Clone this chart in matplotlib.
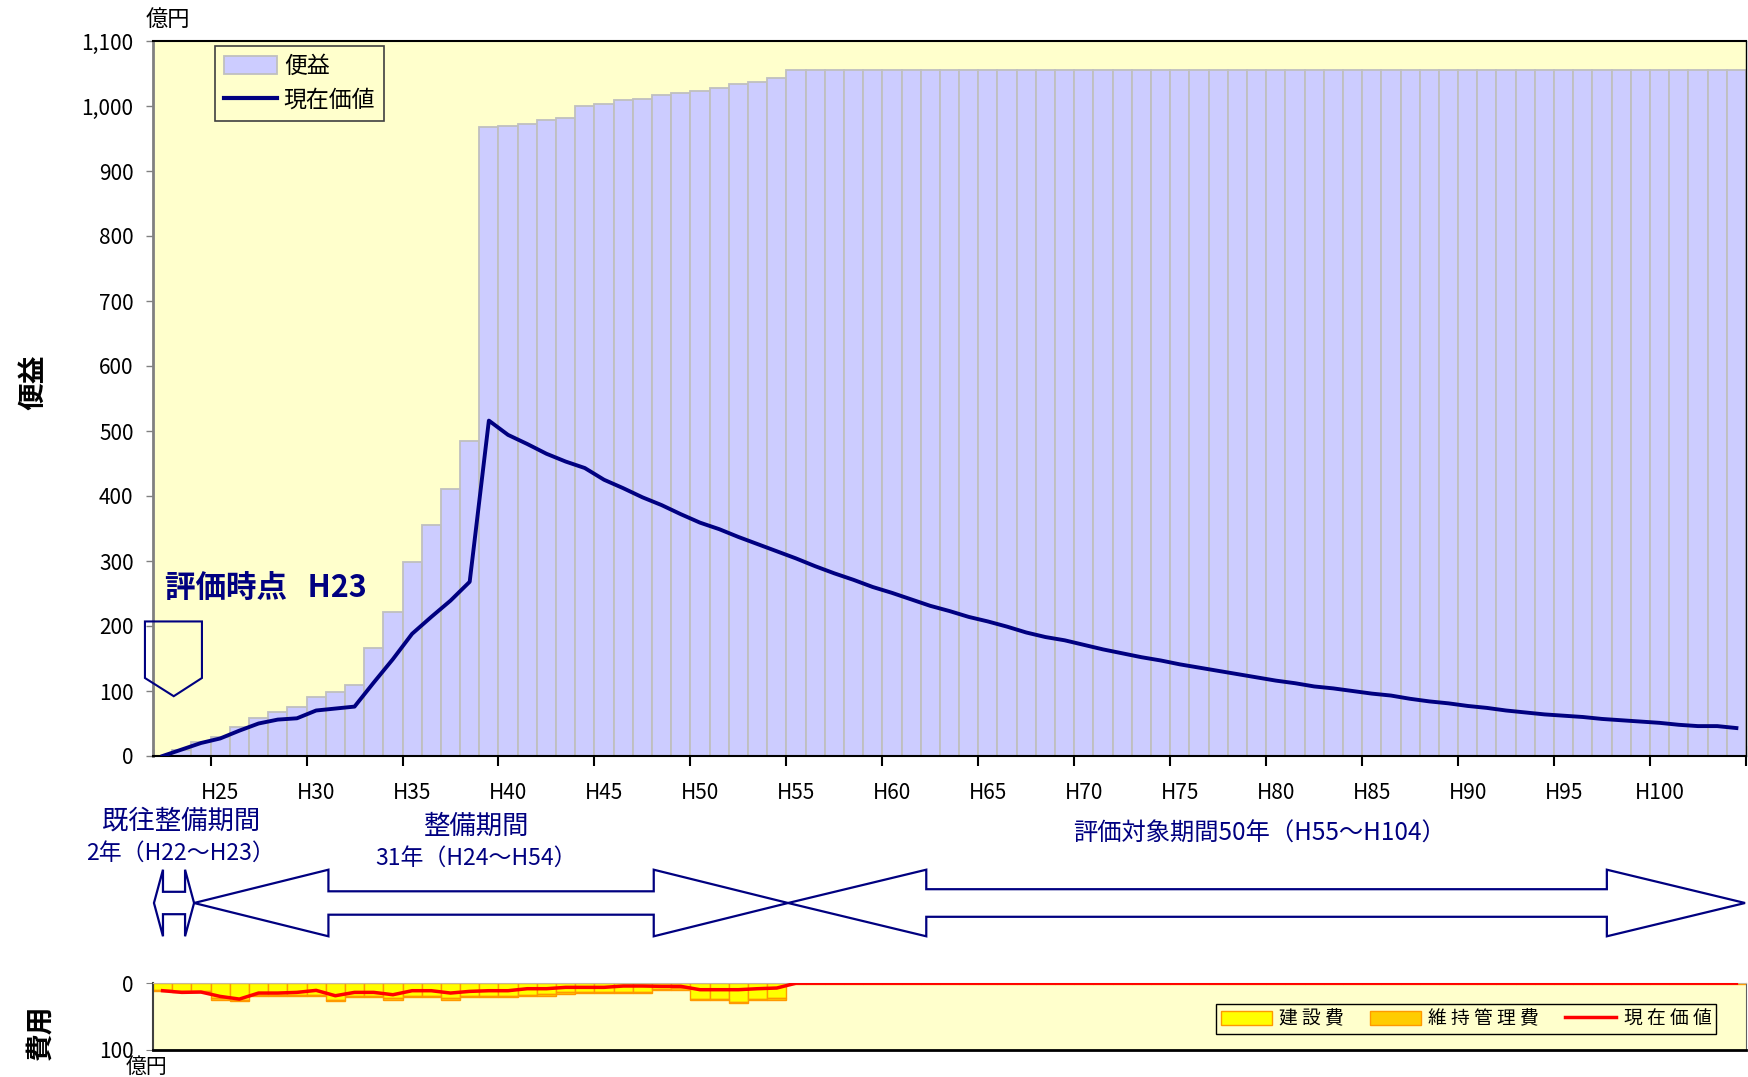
import matplotlib
matplotlib.use('Agg')
import matplotlib.pyplot as plt
import numpy as np
from matplotlib.patches import Polygon, Patch
from matplotlib.lines import Line2D
import matplotlib.transforms as mtransforms

plt.rcParams['font.family'] = ['Noto Sans CJK JP', 'DejaVu Sans']

# ---------------- data ----------------
years = [f"H{n}" for n in range(22, 105)]          # H22 .. H104 (83 years)

benefit = [0, 10, 21.5, 30, 44.5, 58, 67, 76, 90.6, 99, 108.5, 166, 222, 298, 356,
           411, 484, 967, 970, 973, 979, 982, 1000, 1003, 1009, 1011, 1017, 1020,
           1023, 1028, 1034, 1037, 1043] + [1055] * 50

benefit_pv = [0, 10, 20, 27, 39, 50, 56, 58, 70, 73, 76, 113, 149, 188, 214, 239, 268, 516,
              494, 480, 465, 453, 443, 425, 412, 398, 386, 372, 359, 349, 337, 326, 315,
              304, 292, 281, 271, 260, 251, 241, 231, 223, 214, 207, 199, 190, 183, 178,
              171, 164, 158, 152, 147, 141, 136, 131, 126, 121, 116, 112, 107, 104, 100,
              96, 93, 88, 84, 81, 77, 74, 70, 67, 64, 62, 60, 57, 55, 53, 51, 48, 46, 46, 43]

cost_total = [12, 14, 14, 25, 27, 20, 20, 20, 20, 27, 21, 21, 25, 21, 21, 25, 21, 21, 21,
              20, 19, 16, 15, 15, 15, 15, 11, 10, 26, 26, 30, 26, 25] + [0.8] * 50
maintenance = [2] * 33 + [0.8] * 50
construction = [t - m for t, m in zip(cost_total, maintenance)]

cost_pv = [11.5, 14, 13.5, 20, 24, 15, 15, 14, 11, 19, 14, 14, 17.5, 11.5, 11.5, 15, 12.5,
           11.5, 11.5, 8.5, 8.5, 6.5, 6.5, 6.5, 4.5, 4.5, 5, 5, 10, 10, 10, 8.5, 7.5] + [0.3] * 50

benefit_ticks = list(range(0, 1101, 100))
cost_ticks = [0, 100]

# ---------------- layout ----------------
W, H = 1749, 1077
fig = plt.figure(figsize=(W / 100, H / 100), dpi=100)
NAVY = '#000080'
BG = '#FFFFCC'


def fx(x):
    return x / W


def fy(y):
    return 1 - y / H


ax = fig.add_axes([fx(153), fy(756), (1746 - 153) / W, (756 - 41) / H])
x = np.arange(len(years))
ax.bar(x, benefit, width=1.0, color='#CCCCFF', edgecolor='#BFBFBF', linewidth=1.3, zorder=2)
ax.plot(x, benefit_pv, color=NAVY, lw=2.8, zorder=3)
ax.set_xlim(-0.5, len(years) - 0.5)
ax.set_ylim(0, 1100)
ax.set_facecolor(BG)
ax.set_yticks(benefit_ticks)
ax.set_yticklabels([f"{v:,}" for v in benefit_ticks], fontsize=15)
ax.tick_params(axis='y', direction='out', length=5, width=1, color='#808080', pad=9)

# x ticks: short marks at every boundary, long marks every 5 years
ax.set_xticks(np.arange(2.5, len(years), 5))
ax.set_xticklabels([])
ax.tick_params(axis='x', which='major', direction='inout', length=14, width=1.5, color='black')
ax.set_xticks(np.arange(-0.5, len(years), 1), minor=True)
ax.tick_params(axis='x', which='minor', direction='in', length=5, width=1, color='black')
sec = ax.secondary_xaxis('bottom')
sec.set_xticks(x[3::5])
sec.set_xticklabels(years[3::5], fontsize=15)
sec.tick_params(length=0, pad=19)
sec.spines['bottom'].set_visible(False)

ax.spines['left'].set_color('#808080')
ax.spines['left'].set_linewidth(2)
ax.spines['bottom'].set_linewidth(1.5)
ax.spines['top'].set_linewidth(1.5)
ax.spines['right'].set_linewidth(1)

fig.text(fx(33), fy(382), '便益', fontsize=20, fontweight='bold', rotation=90,
         ha='center', va='center')
fig.text(fx(168), fy(19), '億円', fontsize=16, ha='center', va='center')

leg = ax.legend(handles=[Patch(facecolor='#CCCCFF', edgecolor='#BFBFBF', linewidth=1.3, label='便益'),
                         Line2D([], [], color=NAVY, lw=3, label='現在価値')],
                loc='upper left', bbox_to_anchor=((215 - 153) / 1593, (756 - 46) / 715),
                borderaxespad=0, fontsize=16.5, frameon=True, fancybox=False,
                edgecolor='#404040', facecolor=BG, framealpha=1, handlelength=2.3,
                handleheight=0.8, handletextpad=0.3, labelspacing=0.45, borderpad=0.4)
leg.get_frame().set_linewidth(1.2)

# evaluation point marker
ax.add_patch(Polygon([(-0.92, 207), (2.05, 207), (2.05, 120), (0.58, 92), (-0.92, 120)],
                     closed=True, fill=False, edgecolor=NAVY, lw=1.5, clip_on=False, zorder=5))
ax.text(0.125, 258, '評価時点   H23', fontsize=22, fontweight='bold', color=NAVY,
        ha='left', va='center', zorder=6)

# period arrows (x in data units of the top axes, y in figure fraction)
blend = mtransforms.blended_transform_factory(ax.transData, fig.transFigure)


def double_arrow(x0, x1, head, yc_px, hh_px, hs_px):
    yc, hh, hs = fy(yc_px), hh_px / H, hs_px / H
    pts = [(x0, yc), (x0 + head, yc + hh), (x0 + head, yc + hs), (x1 - head, yc + hs),
           (x1 - head, yc + hh), (x1, yc), (x1 - head, yc - hh), (x1 - head, yc - hs),
           (x0 + head, yc - hs), (x0 + head, yc - hh)]
    ax.add_patch(Polygon(pts, closed=True, facecolor='none', edgecolor=NAVY, lw=1.6,
                         transform=blend, clip_on=False))


double_arrow(-0.45, 1.64, 0.47, 903, 33.3, 11.2)
double_arrow(1.64, 32.59, 7.0, 903, 33.3, 11.7)
double_arrow(32.59, 82.45, 7.2, 903, 33.3, 13.8)

fig.text(fx(181), fy(821), '既往整備期間', fontsize=19, color=NAVY, ha='center', va='center')
fig.text(fx(180), fy(853), '2年（H22～H23）', fontsize=16.5, color=NAVY, ha='center', va='center')
fig.text(fx(477), fy(826), '整備期間', fontsize=19, color=NAVY, ha='center', va='center')
fig.text(fx(476), fy(858), '31年（H24～H54）', fontsize=16.5, color=NAVY, ha='center', va='center')
fig.text(fx(1260), fy(834), '評価対象期間50年（H55～H104）', fontsize=17.5, color=NAVY,
         ha='center', va='center')

# ---------------- cost panel ----------------
ax2 = fig.add_axes([fx(153), fy(1050), (1746 - 153) / W, 67 / H])
ax2.set_facecolor(BG)
b1 = ax2.bar(x, construction, width=1.0, color='#FFFF00', edgecolor='#FF9900', linewidth=1,
             label='建 設 費', zorder=2)
b2 = ax2.bar(x, maintenance, bottom=construction, width=1.0, color='#FFCC00', edgecolor='#FF9900',
             linewidth=1, label='維 持 管 理 費', zorder=2)
l1, = ax2.plot(x, cost_pv, color='#FF0000', lw=2.5, label='現 在 価 値', zorder=3)
ax2.set_xlim(-0.5, len(years) - 0.5)
ax2.set_ylim(100, 0)
ax2.set_yticks(cost_ticks)
ax2.set_yticklabels([str(v) for v in cost_ticks], fontsize=15)
ax2.tick_params(axis='y', direction='out', length=5, color='#808080', pad=9)
ax2.set_xticks([])
ax2.spines['top'].set_color('#C8B89A')
ax2.spines['left'].set_color('#404040')
ax2.spines['left'].set_linewidth(1.5)
ax2.spines['bottom'].set_linewidth(2)
ax2.spines['right'].set_color('#606060')
fig.text(fx(40), fy(1032), '費用', fontsize=20, fontweight='bold', rotation=90,
         ha='center', va='center')
fig.text(fx(147), fy(1067), '億円', fontsize=15, ha='center', va='center')

leg2 = ax2.legend(handles=[b1, b2, l1],
                  loc='lower right', bbox_to_anchor=((1716 - 153) / 1593, (1050 - 1034) / 67),
                  borderaxespad=0, ncol=3, fontsize=13.5, frameon=True, fancybox=False,
                  edgecolor='black', facecolor=BG, framealpha=1, handlelength=2.7,
                  handleheight=0.8, handletextpad=0.4, columnspacing=1.4, borderpad=0.25)
leg2.get_frame().set_linewidth(1)

fig.savefig('out.png', dpi=100)
